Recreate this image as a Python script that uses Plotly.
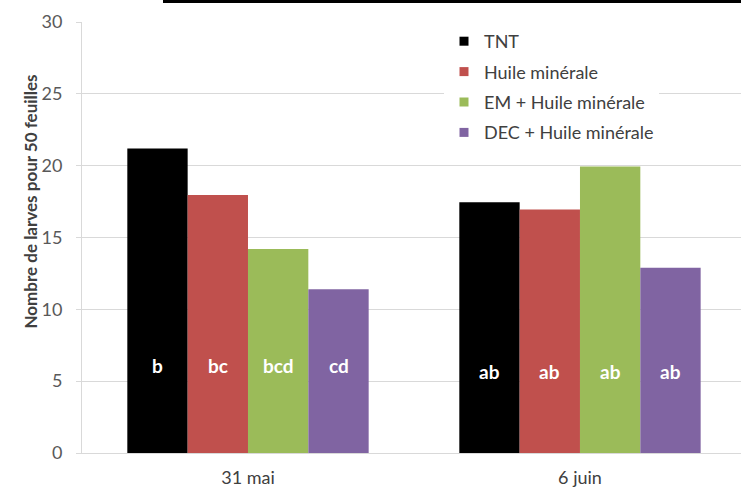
import plotly.graph_objects as go

categories = ["31 mai", "6 juin"]
series_names = ["TNT", "Huile minérale", "EM + Huile minérale", "DEC + Huile minérale"]
series_values = [
    [21.2, 17.45],
    [17.95, 16.95],
    [14.2, 19.95],
    [11.4, 12.9],
]
series_colors = ["#000000", "#C0504D", "#9BBB59", "#8064A2"]
letters = [
    ["b", "ab"],
    ["bc", "ab"],
    ["bcd", "ab"],
    ["cd", "ab"],
]
letter_y = [6.1, 5.7]
y_ticks = [0, 5, 10, 15, 20, 25, 30]
y_title = "Nombre de larves pour 50 feuilles"

font_family = "Lato, Open Sans, Liberation Sans, sans-serif"

L, R, T, B = 82, 0, 22, 38
W, H = 741, 491
PW, PH = W - L - R, H - T - B

fig = go.Figure()
for name, vals, col in zip(series_names, series_values, series_colors):
    fig.add_trace(go.Bar(
        x=list(range(len(categories))), y=vals, name=name,
        marker=dict(color=col, line=dict(width=0)),
        hoverinfo="skip", showlegend=False,
    ))
# legend entries with small square symbols
for i, (name, col) in enumerate(zip(series_names, series_colors)):
    fig.add_trace(go.Scatter(
        x=[None], y=[None], mode="markers", name=name,
        marker=dict(symbol="square", size=9, color=col),
        legendgroup="g%d" % i, showlegend=True, hoverinfo="skip",
    ))

bargap = 0.273
n = len(series_names)
bw = (1 - bargap) / n
annotations = []
for i, labs in enumerate(letters):
    off = -(1 - bargap) / 2 + bw * (i + 0.5)
    for j, lab in enumerate(labs):
        annotations.append(dict(
            x=j + off, y=letter_y[j], xref="x", yref="y", text="<b>%s</b>" % lab,
            showarrow=False, font=dict(color="white", size=19, family=font_family),
        ))
annotations.append(dict(
    x=(17 - L) / PW, y=(H - B - 202) / PH, xref="paper", yref="paper",
    text="<b>%s</b>" % y_title, textangle=-90, showarrow=False,
    font=dict(size=17, color="#404040", family=font_family),
))

fig.update_layout(
    width=W, height=H,
    margin=dict(l=L, r=R, t=T, b=B, pad=0),
    paper_bgcolor="white", plot_bgcolor="white",
    barmode="group", bargap=bargap, bargroupgap=0,
    font=dict(family=font_family, color="#595959"),
    showlegend=True,
    legend=dict(
        x=(444 - L) / PW, y=1 - 1 / PH, xanchor="left", yanchor="top",
        bgcolor="white", borderwidth=0,
        font=dict(size=18, color="#404040", family=font_family),
        tracegroupgap=4, itemwidth=30,
    ),
    annotations=annotations,
    shapes=[dict(type="rect", xref="paper", yref="paper",
                 x0=(163 - L) / PW, x1=1.0,
                 y0=1 + (T - 3) / PH, y1=1 + T / PH,
                 fillcolor="black", line=dict(width=0), layer="above")],
)
fig.update_xaxes(
    range=[-0.5, 1.485],
    tickvals=list(range(len(categories))), ticktext=categories,
    showline=True, linecolor="#D9D9D9", linewidth=1,
    showgrid=False, ticks="", tickfont=dict(size=18, color="#404040"),
    ticklabelstandoff=8,
    zeroline=False,
)
fig.update_yaxes(
    range=[0, 30], tickvals=y_ticks,
    showgrid=True, gridcolor="#D9D9D9", gridwidth=1,
    showline=True, linecolor="#D9D9D9", linewidth=1,
    ticks="outside", ticklen=5, tickcolor="#D9D9D9",
    tickfont=dict(size=18, color="#595959"),
    ticklabelstandoff=10,
    zeroline=False,
)

fig.write_html("out.html", config={"displayModeBar": False},
               post_script="document.body.style.margin='0';")
